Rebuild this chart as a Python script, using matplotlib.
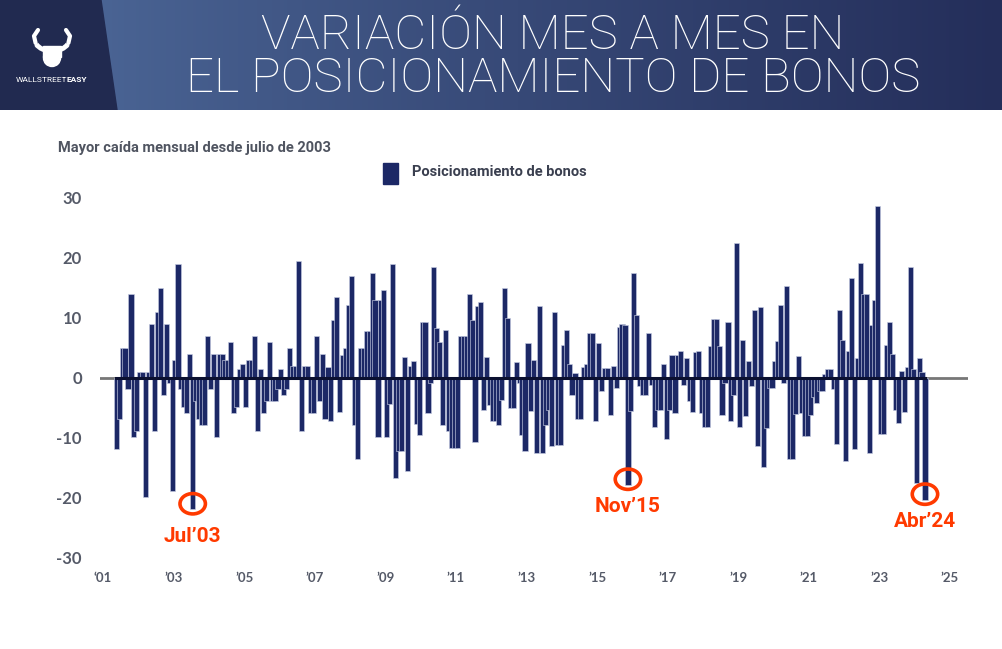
import numpy as np
import matplotlib
matplotlib.use("Agg")
import matplotlib.pyplot as plt
from matplotlib.patches import Polygon, Ellipse, Rectangle, Circle, Arc

# monthly change in bond positioning, May 2001 .. Apr 2024
start_year, start_month = 2001, 5
vals_2001 = [-12, -7, 5, 5, -2, 14, -10, -9]
vals_2002 = [1, 1, -20, 1, 9, -9, 11, 15, -3, 9, -1, -19]
vals_2003 = [3, 19, -2, -5, -6, 4, -22, -4, -7, -8, -8, 7]
vals_2004 = [-2, 4, -10, 4, 4, 3, 3, 6, -6, -5, 1.5, 2.3]
vals_2005 = [-5, 3, 3, 7, -9, 1.4, -6, -4, 6, -4, -4, -2]
vals_2006 = [1.4, -3, -2, 5, 2, 2, 19.4, -9, 2, 2, -6, -6]
vals_2007 = [7, -4, 3.9, -7, 1.8, -7.3, 9.6, 13.5, -5.7, 3.8, 5, 12.2]
vals_2008 = [17, -8, -13.7, 5, 5, 7.8, 7.8, 17.4, 13, -10, 13, 14.6]
vals_2009 = [-10, -4.5, 19, -16.8, -12.3, -12.3, 3.4, -15.7, 2, 2.7, -7.7, -9.6]
vals_2010 = [9.3, 9.3, -6, -1, 18.5, 8.3, 6, -8, 8, -9, -11.7, -11.7]
vals_2011 = [-11.7, 7, 7, 7, 14, 9.6, -10.7, 12, 12.7, -5.4, 3.5, -4.6]
vals_2012 = [-7.3, -7.3, -7.9, -3.7, 14.9, 9.9, -5.1, -5.1, 2.6, -1, -9.6, -12.3]
vals_2013 = [5.8, -5.6, 3, -12.6, 12, -12.6, -8, -5.4, -11.5, 10.9, -11.2, -11.2]
vals_2014 = [5.4, 8, 2.2, -3, 0.7, -7, -7, 1.7, 2.2, 7.4, 7.4, -7.2]
vals_2015 = [5.7, -2.2, 1.6, 1.6, -6.2, 2, -1.8, 8.5, 8.9, 8.7, -17.9, -5.6]
vals_2016 = [17.4, 10.4, -1.5, -3, -3, 7.4, -1.2, -8.3, -5.4, -5.4, 2.3, -10.2]
vals_2017 = [-5.4, 3.8, -6, 3.8, 4.5, -1.2, 3.2, -4, -5.7, 4.2, 4.4, -6]
vals_2018 = [-8.3, -8.3, 5.3, 9.8, 9.8, 5.3, -6.3, -1, 9.3, -7.2, -3, 22.4]
vals_2019 = [-8.2, 6.3, -6.5, 2.7, -1.5, 11.3, -11.5, 11.8, -15, -8.4, -1.8, -1.8]
vals_2020 = [2.7, 6.1, 12.1, -1, 15.3, -13.7, -13.7, -6.1, 3.6, -6, -9.7, -9.7]
vals_2021 = [-6.3, -3.3, -4.3, -2.3, -2.3, 0.6, 1.4, 1.4, -2, -11.1, 11.2, 6.3]
vals_2022 = [-13.9, 4.4, 16.6, -11.9, 3.2, 19.2, 14, 14, -12.6, 8.8, 12.9, 28.7]
vals_2023 = [-9.4, -9.4, 5.4, 9.3, 3.9, -5.4, -7.6, 1.1, -5.7, 1.7, 18.5, 1.5]
vals_2024 = [-17.6, 3.2, 1, -20.4]

year_ticks = list(range(2001, 2026, 2))
tick_labels = ["‘01"] + ["’%02d" % (y % 100) for y in year_ticks[1:]]
y_ticks = [-30, -20, -10, 0, 10, 20, 30]

# highlighted months: (year, month, label)
highlights = [(2003, 7, "Jul’03"), (2015, 11, "Nov’15"), (2024, 4, "Abr’24")]

values = np.array(vals_2001 + vals_2002 + vals_2003 + vals_2004 + vals_2005 + vals_2006
                  + vals_2007 + vals_2008 + vals_2009 + vals_2010 + vals_2011 + vals_2012
                  + vals_2013 + vals_2014 + vals_2015 + vals_2016 + vals_2017 + vals_2018
                  + vals_2019 + vals_2020 + vals_2021 + vals_2022 + vals_2023 + vals_2024)

idx = np.arange(len(values)) + (start_month - 1)
xs = start_year + (idx + 0.5) / 12

NAVY = "#1c2866"
RED = "#ff3a00"
TICK = "#555a68"
NARROW = ["Liberation Sans Narrow", "Roboto", "DejaVu Sans"]

fig = plt.figure(figsize=(10.03, 6.49), dpi=100)
W, H = 1003, 649

# ---- header band ----
hh = 110
axh = fig.add_axes([0, 1 - hh / H, 1, hh / H])
axh.set_xlim(0, W)
axh.set_ylim(hh, 0)
axh.axis("off")
c1 = np.array([74, 100, 148]) / 255
c2 = np.array([36, 46, 90]) / 255
t = np.linspace(0, 1, 300)[None, :, None]
grad = c1 + (c2 - c1) * t ** 0.9
axh.imshow(grad, extent=[100, W, hh, 0], aspect="auto", zorder=0)
axh.add_patch(Polygon([(0, 0), (101, 0), (117, hh), (0, hh)], closed=True,
                      color="#212a50", zorder=1))
axh.text(553, 36, "VARIACIÓN MES A MES EN", color="white", fontsize=35.5,
         family="Roboto", fontweight="light", ha="center", va="center")
axh.text(553, 79, "EL POSICIONAMIENTO DE BONOS", color="white", fontsize=35.5,
         family="Roboto", fontweight="light", ha="center", va="center")
# logo: horns + fist
axh.add_patch(Arc((52, 40), 34, 22, theta1=15, theta2=165, color="white", lw=3.5, zorder=2))
axh.plot([68.4, 70, 66], [43, 36, 30], color="white", lw=3, solid_capstyle="round", zorder=2)
axh.plot([35.6, 34, 38], [43, 36, 30], color="white", lw=3, solid_capstyle="round", zorder=2)
axh.add_patch(Rectangle((43, 46), 18, 11, color="white", zorder=3))
axh.add_patch(Circle((52, 58), 8.5, color="white", zorder=3))
axh.text(67, 80, "WALLSTREET", color="white", fontsize=6, family=NARROW,
         ha="right", va="center")
axh.text(67, 80, "EASY", color="white", fontsize=6, family=NARROW,
         fontweight="bold", ha="left", va="center")

# ---- texts above plot ----
fig.text(58 / W, 1 - 148 / H, "Mayor caída mensual desde julio de 2003", color="#4f5460",
         fontsize=10.5, family=NARROW, fontweight="bold", va="center")
fig.patches.append(Rectangle((383 / W, 1 - 184 / H), 15 / W, 21 / H, color=NAVY,
                             transform=fig.transFigure, figure=fig))
fig.text(412 / W, 1 - 172 / H, "Posicionamiento de bonos", color="#3a3f4f",
         fontsize=10.5, family=NARROW, fontweight="bold", va="center")

# ---- main chart ----
ax = fig.add_axes([100 / W, (H - 557) / H, 868 / W, 359 / H])
px_per_year = 35.29
ax.set_xlim(2001 - 3 / px_per_year, 2001 + 865 / px_per_year)
ax.set_ylim(-30, 30)

ax.axhline(0, color="#777777", lw=2, zorder=1)
ax.bar(xs, values, width=1.75 / 12, color=NAVY, edgecolor="#c3c9e0", linewidth=0.45, zorder=2)
ax.plot([xs[0], xs[-1]], [0, 0], color="#0b1030", lw=2.2, zorder=3)

for (yy, mm, lab) in highlights:
    k = (yy - start_year) * 12 + (mm - start_month)
    x0, v = xs[k], values[k]
    ax.add_patch(Ellipse((x0, v + 0.9), 0.72, 3.4, fill=False, edgecolor=RED, lw=2.6, zorder=4))
    ax.text(x0, v - 3.6 - (1 if lab.startswith("Jul") else 0), lab, color=RED, fontsize=15,
            family=NARROW, fontweight="bold", ha="center", va="center", zorder=4)

ax.set_yticks(y_ticks)
ax.set_yticklabels([str(v) for v in y_ticks], fontsize=12, fontweight="bold",
                   family="Lato", color=TICK)
ax.set_xticks(year_ticks)
ax.set_xticklabels(tick_labels, fontsize=9.5, fontweight="bold", family="Lato", color=TICK)
ax.tick_params(axis="y", length=0, pad=13)
ax.tick_params(axis="x", length=0, pad=11)
for s in ax.spines.values():
    s.set_visible(False)
ax.patch.set_alpha(0)

fig.savefig("out.png", dpi=100)
